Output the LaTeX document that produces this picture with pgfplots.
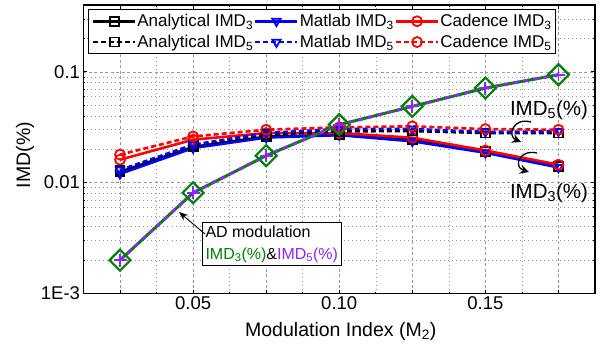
\documentclass[border=0pt]{standalone}
\usepackage{pgfplots}
\pgfplotsset{compat=1.18}
\usepackage{fontspec}
\setmainfont{Liberation Sans}
\usetikzlibrary{calc,arrows.meta}
\definecolor{adgreen}{RGB}{0,128,0}
\definecolor{adpurple}{RGB}{140,40,255}
\definecolor{mblue}{RGB}{0,0,255}
\definecolor{mred}{RGB}{255,0,0}
\pgfplotsset{myleg/.style={legend image code/.code={\draw[mark repeat=2,mark phase=2,##1] plot coordinates {(0pt,0pt) (21pt,0pt) (42pt,0pt)};}}}
\begin{document}
\begin{tikzpicture}
\begin{axis}[
 name=ax, scale only axis, width=511.5pt, height=288.5pt,
 ymode=log, xmin=0.0125, xmax=0.1875, ymin=0.001, ymax=0.4,
 xtick={0.025,0.05,0.075,0.1,0.125,0.15,0.175},
 xticklabels={,0.05,,0.10,,0.15,},
 minor xtick={0.0375,0.0625,0.0875,0.1125,0.1375,0.1625},
 ytick={0.001,0.01,0.1}, yticklabels={1E-3,0.01,0.1},
 minor ytick={0.002,0.003,0.004,0.005,0.006,0.007,0.008,0.009,0.02,0.03,0.04,0.05,0.06,0.07,0.08,0.09,0.2,0.3},
 grid=both,
 major grid style={gray!80, dash pattern=on 3pt off 2.5pt, line width=0.5pt},
 minor grid style={gray!80, dash pattern=on 1pt off 3pt, line width=0.5pt},
 axis line style={line width=1.2pt},
 tick style={black, line width=0.6pt},
 major tick length=4pt, minor tick length=2pt,
 ticklabel style={font=\fontsize{18.5}{20}\selectfont},
 /pgf/number format/assume math mode=true,
 xlabel={Modulation Index (M\textsubscript{2})},
 ylabel={IMD(\%)},
 label style={font=\fontsize{19.5}{22}\selectfont},
 xlabel style={at={(axis description cs:0.503,-0.13)}, anchor=center},
 ylabel style={at={(axis description cs:-0.1144,0.48)}, anchor=center},
 legend columns=3,
 legend cell align=left,
 legend style={at={(0.0094,0.985)}, anchor=north west, draw=black, line width=1pt, fill=white,
   font=\fontsize{17}{18}\selectfont, inner xsep=3pt, inner ysep=2.5pt, row sep=3pt, column sep=0pt,
   nodes={inner xsep=1pt, inner ysep=2pt},
   /tikz/every even column/.append style={column sep=0pt}},
]
% IMD3 (solid)
\addplot[myleg, black, line width=2.6pt, mark=square, mark size=4.5pt, mark options={solid, line width=1.8pt}]
 coordinates {(0.025,0.0125) (0.05,0.0210) (0.075,0.0260) (0.1,0.0270) (0.125,0.0245) (0.15,0.0190) (0.175,0.0140)};
\addlegendentry{Analytical IMD\textsubscript{3}}
\addplot[myleg, mblue, line width=2.6pt, mark=triangle, mark size=4.8pt, mark options={solid, rotate=180, line width=1.8pt}]
 coordinates {(0.025,0.0120) (0.05,0.0205) (0.075,0.0255) (0.1,0.0268) (0.125,0.0236) (0.15,0.0186) (0.175,0.0137)};
\addlegendentry{Matlab IMD\textsubscript{3}}
\addplot[myleg, mred, line width=2.6pt, mark=o, mark size=5pt, mark options={solid, line width=1.8pt}]
 coordinates {(0.025,0.0161) (0.05,0.0244) (0.075,0.0280) (0.1,0.0280) (0.125,0.0254) (0.15,0.0195) (0.175,0.0145)};
\addlegendentry{Cadence IMD\textsubscript{3}}
% IMD5 (dashed)
\addplot[myleg, black, line width=2.6pt, dash pattern=on 5pt off 3pt, mark=square, mark size=4.5pt, mark options={solid, line width=1.8pt}]
 coordinates {(0.025,0.0128) (0.05,0.0215) (0.075,0.0270) (0.1,0.0290) (0.125,0.0292) (0.15,0.0280) (0.175,0.0280)};
\addlegendentry{Analytical IMD\textsubscript{5}}
\addplot[myleg, mblue, line width=2.6pt, dash pattern=on 5pt off 3pt, mark=triangle, mark size=4.8pt, mark options={solid, rotate=180, line width=1.8pt}]
 coordinates {(0.025,0.0130) (0.05,0.0220) (0.075,0.0280) (0.1,0.0305) (0.125,0.0305) (0.15,0.0287) (0.175,0.0290)};
\addlegendentry{Matlab IMD\textsubscript{5}}
\addplot[myleg, mred, line width=2.6pt, dash pattern=on 5pt off 3pt, mark=o, mark size=5pt, mark options={solid, line width=1.8pt}]
 coordinates {(0.025,0.0179) (0.05,0.0261) (0.075,0.0300) (0.1,0.0315) (0.125,0.0322) (0.15,0.0304) (0.175,0.0300)};
\addlegendentry{Cadence IMD\textsubscript{5}}
% AD modulation
\addplot[forget plot, adgreen, line width=3pt, mark=square, mark size=7.4pt, mark options={solid, rotate=45, line width=2.2pt}]
 coordinates {(0.025,0.0020) (0.05,0.0081) (0.075,0.0175) (0.1,0.0333) (0.125,0.0487) (0.15,0.0713) (0.175,0.0940)};
\addplot[forget plot, adpurple, line width=2.8pt, dash pattern=on 5pt off 5pt, mark=+, mark size=6.5pt, mark options={solid, line width=1.8pt}]
 coordinates {(0.025,0.0020) (0.05,0.0081) (0.075,0.0175) (0.1,0.0333) (0.125,0.0487) (0.15,0.0713) (0.175,0.0940)};
\end{axis}
\begin{scope}[shift={(ax.north west)}, x=1pt, y=-1pt, xshift=-83.5pt, yshift=5pt]
 \node[font=\fontsize{20.5}{24}\selectfont, anchor=center] at (549,110) {IMD\textsubscript{5}(\%)};
 \node[font=\fontsize{20.5}{24}\selectfont, anchor=center] at (549,193) {IMD\textsubscript{3}(\%)};
 \draw[line width=1.3pt, -{Stealth[length=9pt,width=9pt]}] (531,122) .. controls (513,117) and (507,136) .. (521,142);
 \draw[line width=1.3pt, -{Stealth[length=9pt,width=9pt]}] (537,153) .. controls (519,149) and (513,167) .. (529,172);
 \node[draw, line width=1pt, fill=white, align=left, anchor=north west, font=\fontsize{16}{22}\selectfont, inner xsep=3pt, inner ysep=3pt]
   at (202,222) {AD modulation\\\textcolor{adgreen}{IMD\textsubscript{3}(\%)}\&\textcolor{adpurple}{IMD\textsubscript{5}(\%)}};
 \draw[line width=0.9pt, -{Stealth[length=9pt,width=7pt]}] (205,234) -- (179,212);
\end{scope}
\pgfresetboundingbox
\path[use as bounding box] ($(ax.south west)+(-83.5pt,-51.5pt)$) rectangle ($(ax.north east)+(11pt,5pt)$);
\end{tikzpicture}
\end{document}
